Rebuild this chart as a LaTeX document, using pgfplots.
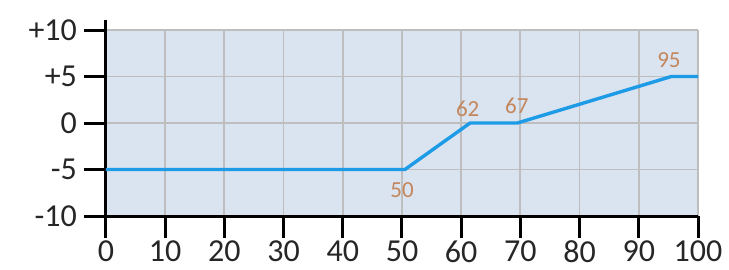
\documentclass[border=0pt]{standalone}
\usepackage{pgfplots}
\pgfplotsset{compat=1.18}
\usepackage{fontspec}
\setmainfont{Carlito}
\definecolor{bg}{HTML}{DAE3F0}
\definecolor{gridc}{HTML}{BEBEBE}
\definecolor{lineblue}{HTML}{1E9BE6}
\definecolor{lab}{HTML}{C4875C}
\begin{document}
\begin{tikzpicture}
\path[use as bounding box] (-53pt,-26.5pt) rectangle (311.5pt,108pt);
\begin{axis}[
  at={(0,0)}, anchor=south west,
  scale only axis, width=296pt, height=93pt,
  xmin=0, xmax=100, ymin=-10, ymax=10,
  axis lines=left,
  axis line style={-, line width=1.5pt, black},
  y axis line style={shorten >=-5pt},
  xtick={0,10,...,100},
  ytick={-10,-5,0,5,10},
  yticklabels={-10,-5,0,+5,+10},
  tick align=outside, major tick length=11pt,
  tick style={line width=1.5pt, black},
  grid=major, grid style={gridc, line width=0.9pt},
  axis background/.style={fill=bg},
  ticklabel style={font=\fontsize{16}{16}\selectfont, text=black!85},
  xticklabel style={inner sep=1pt},
  /pgf/number format/assume math mode=true,
  clip=false,
]
\addplot[lineblue, line width=1.7pt] coordinates {
  (0,-5) (50.5,-5) (61.5,0) (69.5,0) (95.5,5) (100,5)
};
\node[text=lab, font=\fontsize{11.5}{12}\selectfont] at (axis cs:50,-7.2) {50};
\node[text=lab, font=\fontsize{11.5}{12}\selectfont] at (axis cs:61.1,1.5) {62};
\node[text=lab, font=\fontsize{11.5}{12}\selectfont] at (axis cs:69.4,1.9) {67};
\node[text=lab, font=\fontsize{11.5}{12}\selectfont] at (axis cs:95.1,6.8) {95};
\end{axis}
\end{tikzpicture}
\end{document}
